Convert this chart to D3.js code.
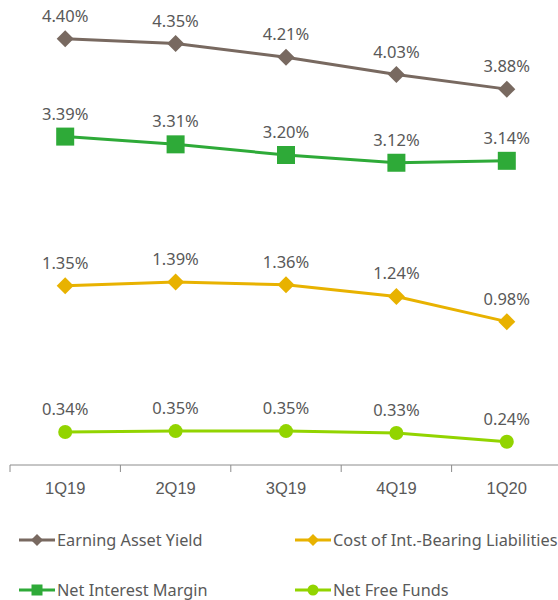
<!DOCTYPE html>
<html lang="en">
<head>
    <meta charset="UTF-8">
    <title>Yields and Margins</title>
    <style>
        * { margin:0; padding:0; box-sizing:border-box; }
        body { background:#fff; }
        svg { display:block; font-family:"Noto Sans", "Open Sans", sans-serif; }
    </style>
    <script src="https://unpkg.com/d3@7.6.1/dist/d3.min.js"></script>
</head>
<body>
    <div id="chart"></div>
    <script>
        const quarters=["1Q19","2Q19","3Q19","4Q19","1Q20"];
        const earningAssetYield=[4.40,4.35,4.21,4.03,3.88];
        const netInterestMargin=[3.39,3.31,3.20,3.12,3.14];
        const costOfLiabilities=[1.35,1.39,1.36,1.24,0.98];
        const netFreeFunds=[0.34,0.35,0.35,0.33,0.24];

        const series=[
            {name:"Earning Asset Yield", values:earningAssetYield, color:"#786960", marker:"diamond", axis:"left"},
            {name:"Cost of Int.-Bearing Liabilities", values:costOfLiabilities, color:"#e8b200", marker:"diamond", axis:"right"},
            {name:"Net Interest Margin", values:netInterestMargin, color:"#2eaa38", marker:"square", axis:"left"},
            {name:"Net Free Funds", values:netFreeFunds, color:"#92d400", marker:"circle", axis:"left"}
        ];

        const width=558, height=600;
        const axisY=465;

        const x=d3.scaleBand(quarters,[10,562]);
        const yLeft=d3.scaleLinear([0,4.8],[axisY,0]);
        const yRight=d3.scaleLinear([-0.5,4.3],[axisY,0]);

        const svg=d3.select("#chart").append("svg")
            .attr("width",width)
            .attr("height",height);

        function drawMarker(g,type,color,size){
            if(type==="diamond"){
                const s=size;
                g.append("path").attr("d",`M0,${-s}L${s},0L0,${s}L${-s},0Z`).attr("fill",color);
            } else if(type==="square"){
                g.append("rect").attr("x",-size).attr("y",-size).attr("width",size*2).attr("height",size*2).attr("fill",color);
            } else {
                g.append("circle").attr("r",size).attr("fill",color);
            }
        }
        const markerSize={diamond:8.5,square:9,circle:7};

        // axis
        const xAxis=d3.axisBottom(x).tickSize(0).tickPadding(17);
        const axisG=svg.append("g")
            .attr("transform",`translate(0,${axisY})`)
            .call(xAxis);
        axisG.select(".domain").attr("stroke","#8c8c8c").attr("d","M10,0H558");
        axisG.selectAll(".tick text").attr("font-size",16.5).attr("fill","#595959").attr("font-family","inherit");
        axisG.selectAll(".bound")
            .data(quarters)
            .join("line")
            .attr("x1",d=>x(d)).attr("x2",d=>x(d))
            .attr("y1",0).attr("y2",7)
            .attr("stroke","#8c8c8c");

        const cx=d=>x(d)+x.bandwidth()/2;

        series.forEach(s=>{
            const y=s.axis==="left"?yLeft:yRight;
            const line=d3.line().x((v,i)=>cx(quarters[i])).y(v=>y(v));
            svg.append("path")
                .datum(s.values)
                .attr("fill","none")
                .attr("stroke",s.color)
                .attr("stroke-width",3)
                .attr("d",line);
            s.values.forEach((v,i)=>{
                const g=svg.append("g").attr("transform",`translate(${cx(quarters[i])},${y(v)})`);
                drawMarker(g,s.marker,s.color,markerSize[s.marker]);
                svg.append("text")
                    .attr("x",cx(quarters[i]))
                    .attr("y",y(v)-17)
                    .attr("text-anchor","middle")
                    .attr("font-size",16.5)
                    .attr("fill","#595959")
                    .text(v.toFixed(2)+"%");
            });
        });

        // legend
        const legendPos=[[19,540],[295,540],[19,590],[295,590]];
        series.forEach((s,i)=>{
            const [lx,ly]=legendPos[i];
            const g=svg.append("g").attr("transform",`translate(${lx},${ly})`);
            g.append("line").attr("x1",0).attr("x2",36).attr("y1",0).attr("y2",0)
                .attr("stroke",s.color).attr("stroke-width",3);
            const m=g.append("g").attr("transform","translate(18,0)");
            drawMarker(m,s.marker,s.color,s.marker==="circle"?5.5:(s.marker==="square"?5.5:6));
            g.append("text").attr("x",38).attr("y",6)
                .attr("font-size",16.3).attr("fill","#595959")
                .text(s.name);
        });
    </script>
</body>
</html>
